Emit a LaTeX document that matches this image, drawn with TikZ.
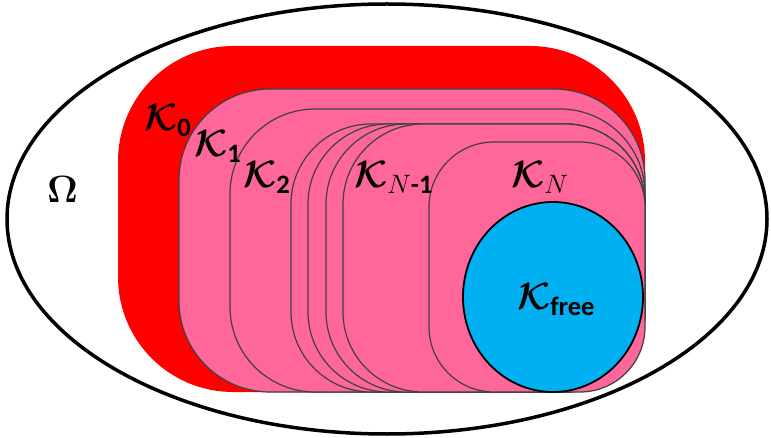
\RequirePackage{fix-cm}
\documentclass[tikz,border=0pt]{standalone}
\usepackage{amsmath}
\usepackage{fontspec}
\newfontfamily\subfont{Carlito}
\usetikzlibrary{positioning}
\colorlet{outerred}{red}
\definecolor{setpink}{HTML}{FF6699}
\definecolor{freeblue}{HTML}{00B0F0}
\definecolor{edgegray}{HTML}{404040}
\newcommand{\subtxt}[1]{\text{\subfont\bfseries #1}}
\newcommand{\Kset}{\boldsymbol{\mathcal{K}}}

\begin{document}
\begin{tikzpicture}[x=1pt, y=-1pt,
    setbox/.style={fill=setpink, draw=edgegray, line width=1.2pt},
    lbl/.style={font=\fontsize{38}{44}\selectfont, inner sep=0pt, anchor=base west}]
    \useasboundingbox (0,0) rectangle (771,438);

    % --- Domain Omega ---
    \draw[line width=3.5pt] (387,219) ellipse [x radius=380, y radius=215];
    \node[lbl] (omega) at (47,203) {$\boldsymbol{\Omega}$};

    % --- K_0: outer red set ---
    \fill[outerred, rounded corners=115pt] (118,46) rectangle (645,392);

    % --- Nested sets K_1 ... K_N (left, top, corner radius) ---
    \foreach \l/\t/\r in {179/89/91, 230/109/85, 291/124/80, 308/124/80,
                          326/124/80, 343/124/80, 429/142/65}
        \draw[setbox, rounded corners=\r pt] (\l,\t) rectangle (645,392);

    % --- K_free ---
    \draw[fill=freeblue, draw=black, line width=1.8pt] (553,297) ellipse [x radius=90, y radius=95];

    % --- Labels ---
    \node[lbl] (k0) at (144,131) {$\Kset_{\subtxt{0}}$};
    \node[lbl] (k1) at (194,157) {$\Kset_{\subtxt{1}}$};
    \node[lbl] (k2) at (243,188) {$\Kset_{\subtxt{2}}$};
    \node[lbl] (knm1) at (354,188) {$\Kset_{N\subtxt{-1}}$};
    \node[lbl] (kn) at (511,188) {$\Kset_{N}$};
    \node[lbl] (kfree) at (517,310) {$\Kset_{\subtxt{free}}$};
\end{tikzpicture}
\end{document}
